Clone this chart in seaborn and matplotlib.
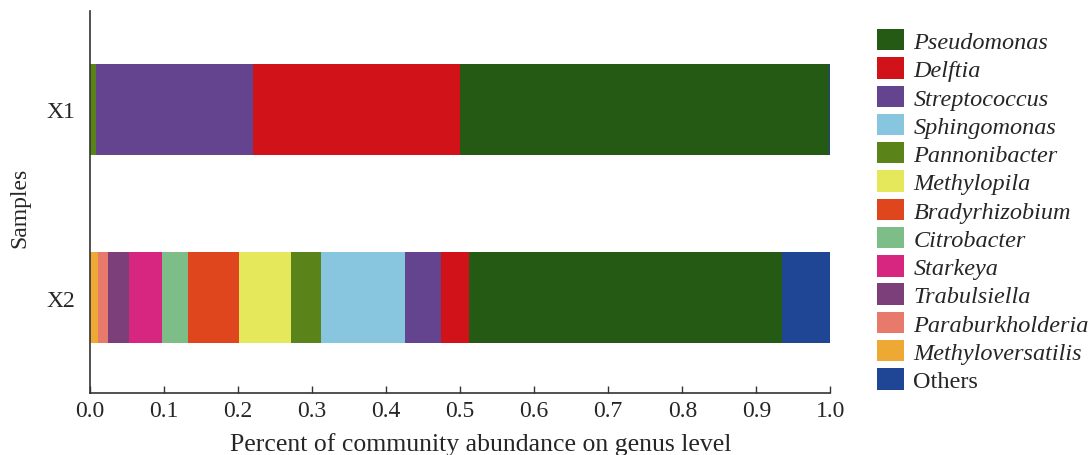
import matplotlib
matplotlib.use("Agg")
import matplotlib.pyplot as plt
import seaborn as sns
import pandas as pd
import numpy as np
from matplotlib.patches import Patch

# Genera in legend order (top to bottom)
genera = ["Pseudomonas", "Delftia", "Streptococcus", "Sphingomonas",
          "Pannonibacter", "Methylopila", "Bradyrhizobium", "Citrobacter",
          "Starkeya", "Trabulsiella", "Paraburkholderia", "Methyloversatilis",
          "Others"]
colors = ["#255a14", "#d21219", "#65448f", "#88c6e0",
          "#5a8419", "#e6e85c", "#e0461e", "#7cbd88",
          "#d6267f", "#7c3f7a", "#e87a6c", "#eea935",
          "#1f4694"]
samples = ["X1", "X2"]

# Relative abundance per genus, same order as `genera`
abund_x1 = [0.498, 0.280, 0.211, 0.000, 0.009, 0.000, 0.000, 0.000,
            0.000, 0.000, 0.000, 0.000, 0.002]
abund_x2 = [0.422, 0.037, 0.049, 0.114, 0.040, 0.070, 0.069, 0.035,
            0.045, 0.028, 0.013, 0.012, 0.066]

sns.set_style("ticks")
plt.rcParams["font.family"] = ["Liberation Serif", "DejaVu Serif"]

df = pd.DataFrame({"X1": abund_x1, "X2": abund_x2}, index=genera)
color_of = dict(zip(genera, colors))

# Segments run left to right: minor genera first, Others last
stack_order = genera[:-1][::-1] + ["Others"]
cum = df.loc[stack_order].cumsum()

fig = plt.figure(figsize=(10.91, 4.56), dpi=100)
ax = fig.add_axes([89.5 / 1091, 62 / 456, 741 / 1091, 382 / 456])

# Draw cumulative totals from the outermost layer inward so each layer shows
for g in stack_order[::-1]:
    layer = pd.DataFrame({"sample": samples, "value": cum.loc[g, samples].values})
    sns.barplot(data=layer, x="value", y="sample", orient="h", order=samples,
                color=color_of[g], width=0.483, linewidth=0, saturation=1,
                ax=ax)

ax.set_xlim(0, 1.0)
ax.set_ylim(1.506, -0.523)
ax.set_xticks(np.arange(0, 1.01, 0.1))
ax.set_xticklabels([f"{v:.1f}" for v in np.arange(0, 1.01, 0.1)])
ax.tick_params(axis="x", direction="in", length=5, width=1, labelsize=17,
               pad=5, color="#333333")
ax.tick_params(axis="y", length=0, labelsize=17, pad=10.5)
for s in ["top", "right"]:
    ax.spines[s].set_visible(False)
for s in ["left", "bottom"]:
    ax.spines[s].set_linewidth(1.2)
    ax.spines[s].set_color("#333333")
ax.set_xlabel("")
ax.set_ylabel("")
fig.text(20 / 1091, 1 - 208 / 456, "Samples", rotation=90,
         ha="center", va="center", fontsize=17)
fig.text(481 / 1091, 11 / 456, "Percent of community abundance on genus level",
         ha="center", va="center", fontsize=18.5)

handles = [Patch(facecolor=color_of[g], edgecolor="none") for g in genera]
leg = ax.legend(handles, genera, loc="upper left",
                bbox_to_anchor=(877 / 1091, 1 - 30 / 456),
                bbox_transform=fig.transFigure, frameon=False, fontsize=17.5,
                handlelength=1.1, handleheight=0.98, labelspacing=0.173,
                handletextpad=0.4, borderpad=0, borderaxespad=0)
for t in leg.get_texts()[:-1]:
    t.set_style("italic")

fig.savefig("out.png", dpi=100, facecolor="white")
